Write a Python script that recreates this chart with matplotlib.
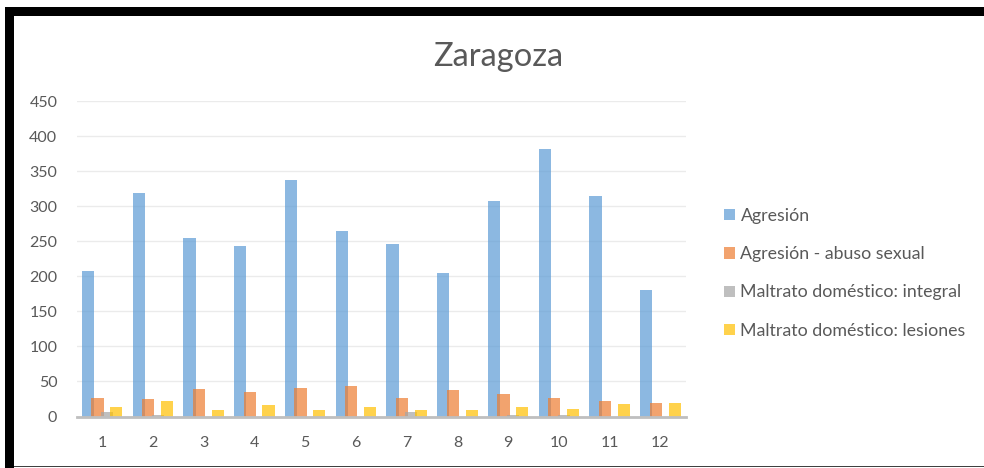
import numpy as np
import matplotlib
matplotlib.use("Agg")
import matplotlib.pyplot as plt
from matplotlib.patches import Rectangle

# data
meses = ["1", "2", "3", "4", "5", "6", "7", "8", "9", "10", "11", "12"]
agresion = [208, 319, 255, 243, 338, 265, 246, 205, 307, 382, 315, 181]
abuso_sexual = [27, 25, 39, 35, 41, 44, 27, 38, 32, 27, 22, 19]
maltrato_integral = [6, 2, 0, 0, 0, 0, 7, 0, 2, 2, 0, 0]
maltrato_lesiones = [13, 22, 10, 16, 10, 14, 10, 10, 13, 11, 18, 19]

series = [
    ("Agresión", agresion, "#5B9BD5"),
    ("Agresión - abuso sexual", abuso_sexual, "#ED7D31"),
    ("Maltrato doméstico: integral", maltrato_integral, "#A5A5A5"),
    ("Maltrato doméstico: lesiones", maltrato_lesiones, "#FFC000"),
]

plt.rcParams["font.family"] = ["Lato", "DejaVu Sans"]
text_color = "#595959"

fig = plt.figure(figsize=(9.84, 4.68), dpi=100)
ax = fig.add_axes([0.078, 0.110, 0.619, 0.674])

x = np.arange(len(meses))
width = 0.24
offsets = [-0.279, -0.093, 0.093, 0.279]
for (name, vals, color), off in zip(series, offsets):
    ax.bar(x + off, vals, width, color=color, alpha=0.7, label=name, zorder=2)

ax.set_xlim(-0.5, len(meses) - 0.5)
ax.set_ylim(0, 450)
ax.set_yticks(range(0, 451, 50))
ax.set_xticks(x)
ax.set_xticklabels(meses)
ax.grid(axis="y", color="#EBEBEB", linewidth=1, zorder=0)
ax.set_axisbelow(True)
for s in ["top", "right", "left"]:
    ax.spines[s].set_visible(False)
ax.spines["bottom"].set_color("#BFBFBF")
ax.spines["bottom"].set_linewidth(2)
ax.spines["bottom"].set_zorder(3)
ax.tick_params(length=0, labelsize=11.5, labelcolor=text_color)
ax.tick_params(axis="x", pad=14)
ax.tick_params(axis="y", pad=14)

fig.text(0.506, 0.878, "Zaragoza", ha="center", va="center", fontsize=23.5, color=text_color)

leg = fig.legend(loc="center left", bbox_to_anchor=(0.720, 0.416), frameon=False,
                 fontsize=12.8, labelspacing=1.25, handlelength=0.6, handleheight=0.6,
                 handletextpad=0.3)
for t in leg.get_texts():
    t.set_color(text_color)

# black frame of the screenshot
W, H = 984, 468
fig.add_artist(Rectangle((5 / W, (H - 16) / H), (W - 5) / W, 9 / H, transform=fig.transFigure,
                         facecolor="black", linewidth=0, zorder=10))
fig.add_artist(Rectangle((5 / W, 0), 9 / W, (H - 7) / H, transform=fig.transFigure,
                         facecolor="black", linewidth=0, zorder=10))
fig.add_artist(Rectangle((14 / W, 1 / H), (W - 14) / W, 1.5 / H, transform=fig.transFigure,
                         facecolor="#404040", linewidth=0, zorder=10))

fig.savefig("out.png", dpi=100)
